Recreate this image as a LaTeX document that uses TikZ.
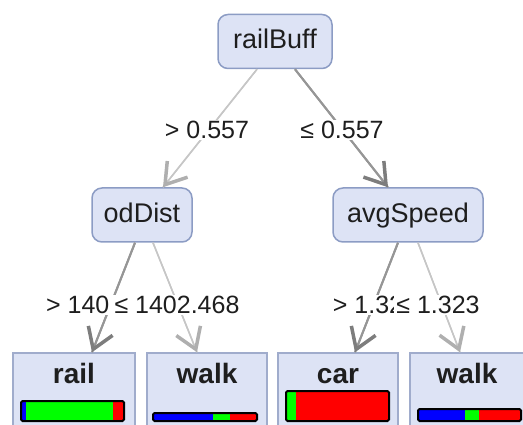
\documentclass[tikz,border=0pt]{standalone}
\usepackage{fontspec}
\setmainfont{Liberation Sans}
\usetikzlibrary{arrows.meta,calc}
\definecolor{nfill}{RGB}{221,227,245}
\definecolor{ndraw}{RGB}{140,156,196}
\definecolor{ldraw}{RGB}{160,172,204}
\definecolor{elight}{RGB}{198,198,198}
\definecolor{edark}{RGB}{150,150,150}
\definecolor{tlight}{RGB}{175,175,175}
\definecolor{tdark}{RGB}{125,125,125}
\definecolor{txt}{RGB}{30,30,30}
\definecolor{bblue}{RGB}{0,0,255}
\definecolor{bgreen}{RGB}{0,255,0}
\definecolor{bred}{RGB}{255,0,0}
\begin{document}
\begin{tikzpicture}[x=1pt,y=-1pt,
  inode/.style={draw=ndraw, fill=nfill, line width=1.5pt, rounded corners=10pt,
    minimum height=54pt, inner sep=0pt, font=\fontsize{27}{30}\selectfont,
    text height=20pt, text depth=5pt, text=txt},
  leafbox/.style={draw=ldraw, fill=nfill, line width=1.5pt, inner sep=0pt,
    minimum height=90pt},
  leaftext/.style={inner sep=0pt, font=\bfseries\fontsize{28}{30}\selectfont,
    text height=20pt, text depth=0pt, text=txt},
  lbl/.style={fill=white, inner xsep=2pt, inner ysep=1pt,
    font=\fontsize{25}{28}\selectfont, text=txt},
  elin/.style={draw=elight, line width=1.5pt},
  edrk/.style={draw=edark, line width=2pt},
  tipl/.style={-{Straight Barb[length=20pt, width=26pt, line width=3.5pt, color=tlight]}},
  tipd/.style={-{Straight Barb[length=20pt, width=26pt, line width=3.5pt, color=tdark]}},
  bar/.style={draw=black, line width=2pt, rounded corners=1.5pt}
]
\useasboundingbox (0,0) rectangle (523,425);
\clip (0,0) rectangle (523,425);

% internal nodes
\node[inode, minimum width=114pt] (rb) at (275,41.5) {railBuff};
\node[inode, minimum width=100pt] (od) at (142,215) {odDist};
\node[inode, minimum width=150pt] (as) at (408,215) {avgSpeed};

% leaf boxes
\node[leafbox, minimum width=122pt] (l1) at (74,398) {};
\node[leafbox, minimum width=120pt] (l2) at (207,398) {};
\node[leafbox, minimum width=120pt] (l3) at (338,398) {};
\node[leafbox, minimum width=125pt] (l4) at (472.5,398) {};

\node[leaftext] (t1) at (74,373) {rail};
\node[leaftext] (t2) at (207,373) {walk};
\node[leaftext] (t3) at (338,373) {car};
\node[leaftext] (t4) at (467,373) {walk};

% bars
\fill[bblue] (21,401) rectangle (26,421);
\fill[bgreen] (26,401) rectangle (113,421);
\fill[bred] (113,401) rectangle (124,421);
\draw[bar] (21,401) rectangle (124,421);

\fill[bblue] (153,413) rectangle (213,421);
\fill[bgreen] (213,413) rectangle (230,421);
\fill[bred] (230,413) rectangle (257,421);
\draw[bar] (153,413) rectangle (257,421);

\fill[bgreen] (286,391) rectangle (296,421);
\fill[bred] (296,391) rectangle (389,421);
\draw[bar] (286,391) rectangle (389,421);

\fill[bblue] (418,409) rectangle (465,421);
\fill[bgreen] (465,409) rectangle (479,421);
\fill[bred] (479,409) rectangle (521,421);
\draw[bar] (418,409) rectangle (521,421);

% edges level 1
\draw[elin] ($(rb.south)+(-18,0)$) -- ($(od.north)+(21,0)$);
\draw[elin, tipl] ($(rb.south)+(-18,0)$) -- ($(od.north)+(21,0)$);
\draw[edrk] ($(rb.south)+(20,0)$) -- ($(as.north)+(-20,0)$);
\draw[edrk, tipd] ($(rb.south)+(20,0)$) -- ($(as.north)+(-20,0)$);

% edges level 2
\draw[edrk] ($(od.south)+(-7,0)$) -- ($(l1.north)+(18,0)$);
\draw[edrk, tipd] ($(od.south)+(-7,0)$) -- ($(l1.north)+(18,0)$);
\draw[elin] ($(od.south)+(11,0)$) -- ($(l2.north)+(-10,0)$);
\draw[elin, tipl] ($(od.south)+(11,0)$) -- ($(l2.north)+(-10,0)$);
\draw[edrk] ($(as.south)+(-10,0)$) -- ($(l3.north)+(17,0)$);
\draw[edrk, tipd] ($(as.south)+(-10,0)$) -- ($(l3.north)+(17,0)$);
\draw[elin] ($(as.south)+(10,0)$) -- ($(l4.north)+(-12.5,0)$);
\draw[elin, tipl] ($(as.south)+(10,0)$) -- ($(l4.north)+(-12.5,0)$);

% labels
\node[lbl] (e1) at (207,130) {> 0.557};
\node[lbl] (e2) at (342,130) {≤ 0.557};
\node[lbl] (e3) at (109,305) {> 1402.468};
\node[lbl, inner xsep=5pt] (e4) at (177,305) {≤ 1402.468};
\node[lbl] (e5) at (375,305) {> 1.323};
\node[lbl] (e6) at (438,305) {≤ 1.323};
\end{tikzpicture}
\end{document}
